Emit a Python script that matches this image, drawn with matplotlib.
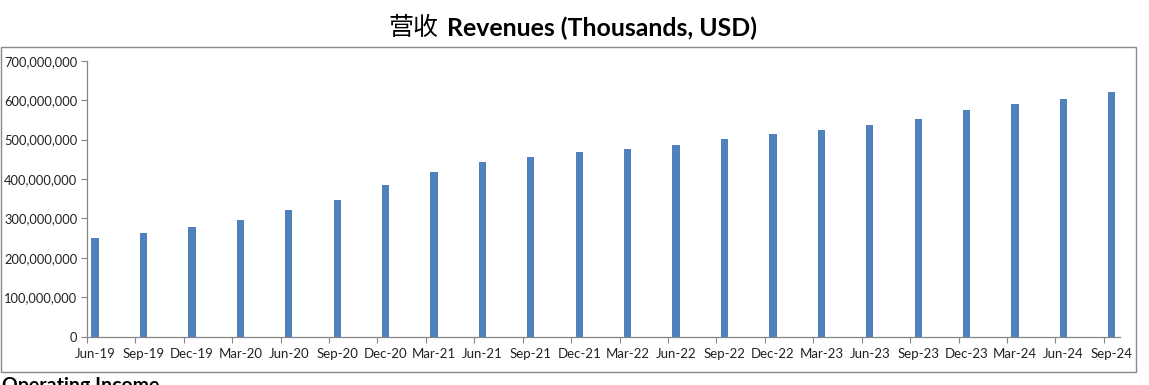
import matplotlib
matplotlib.use("Agg")
import matplotlib.pyplot as plt
from matplotlib.patches import Rectangle
from matplotlib.ticker import FuncFormatter

"""1. Data read off the chart"""

quarters = ['Jun-19', 'Sep-19', 'Dec-19', 'Mar-20', 'Jun-20', 'Sep-20', 'Dec-20', 'Mar-21',
            'Jun-21', 'Sep-21', 'Dec-21', 'Mar-22', 'Jun-22', 'Sep-22', 'Dec-22', 'Mar-23',
            'Jun-23', 'Sep-23', 'Dec-23', 'Mar-24', 'Jun-24', 'Sep-24']
revenues = [251e6, 264e6, 278e6, 296e6, 321e6, 347e6, 385e6, 418e6,
            443e6, 456e6, 469e6, 476e6, 486e6, 501e6, 514e6, 524e6,
            538e6, 552e6, 575e6, 590e6, 603e6, 621e6]
y_ticks = [0, 100e6, 200e6, 300e6, 400e6, 500e6, 600e6, 700e6]

"""2. Layout - date axis in months, one bar per quarter"""

months = [3 * i for i in range(len(quarters))]
centers = [m + 0.5 for m in months]

fig = plt.figure(figsize=(11.49, 3.85), dpi=100)
ax = fig.add_axes([0.0757, 0.1255, 0.899, 0.7168])

ax.bar(centers, revenues, width=0.45, color='#4F81BD')

ax.set_xlim(0, 64)
ax.set_ylim(0, 700e6)
ax.set_yticks(y_ticks)
ax.yaxis.set_major_formatter(FuncFormatter(lambda v, p: '{:,.0f}'.format(v)))

ax.set_xticks(months)
ax.set_xticklabels([])
ax.set_xticks(centers, minor=True)
ax.set_xticklabels(quarters, minor=True)

for s in ['top', 'right']:
    ax.spines[s].set_visible(False)
for s in ['left', 'bottom']:
    ax.spines[s].set_color('#868686')
    ax.spines[s].set_linewidth(0.9)

ax.tick_params(axis='y', which='major', length=4, color='#868686', labelsize=9.3, pad=3)
ax.tick_params(axis='x', which='major', length=4, color='#868686')
ax.tick_params(axis='x', which='minor', length=0, labelsize=9.5, pad=8)
for lab in ax.get_yticklabels() + ax.get_xticklabels(minor=True):
    lab.set_fontfamily('Lato')
    lab.set_color('#222222')

"""3. Title, chart border and the top of the next chart"""

fig.text(438 / 1149, 1 - 28 / 385, '营收', family=['Noto Sans CJK SC', 'DejaVu Sans'],
         fontsize=18, ha='right', va='center')
fig.text(447 / 1149, 1 - 28 / 385, 'Revenues (Thousands, USD)', family='Lato',
         fontweight='bold', fontsize=17.9, ha='left', va='center')

fig.patches.append(Rectangle((0.0005, 13 / 385), 1135 / 1149, 325.5 / 385,
                             transform=fig.transFigure, fill=False,
                             edgecolor='#898989', linewidth=1.0))

# top of the next chart's title, cut by the image edge as in the source
fig.text(2 / 1149, 8 / 385, 'Operating Income', family='Lato', fontweight='bold',
         fontsize=14, ha='left', va='top')

plt.savefig('out.png', dpi=100)
plt.close()
